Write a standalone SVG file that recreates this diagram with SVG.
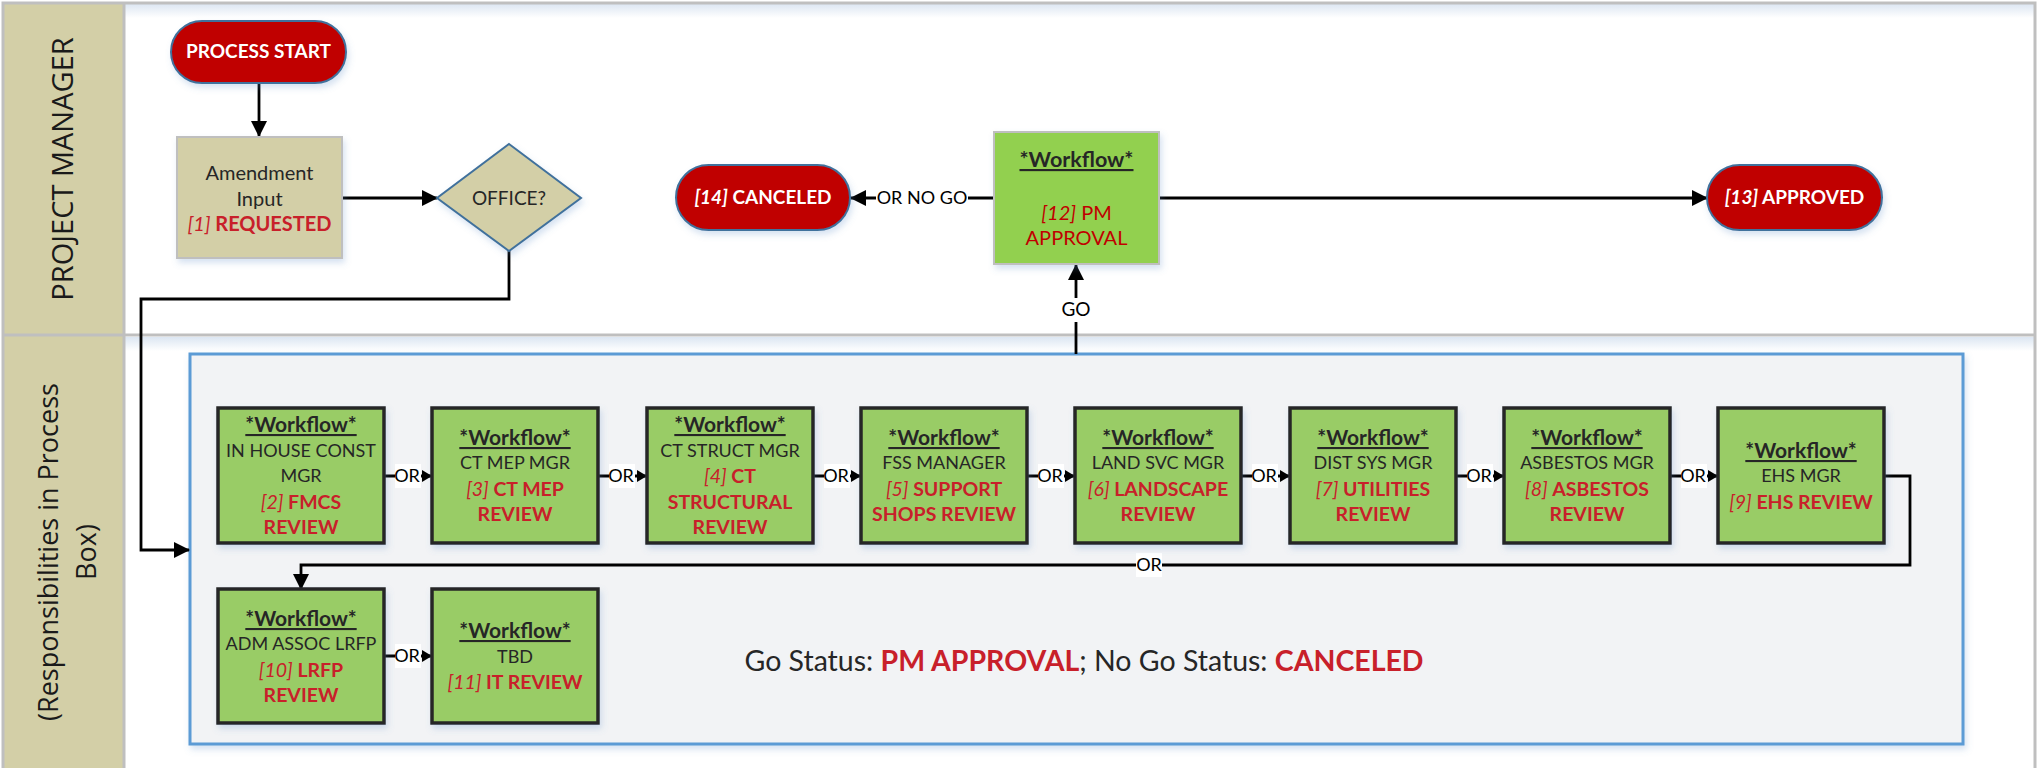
<svg xmlns="http://www.w3.org/2000/svg" width="2038" height="768" viewBox="0 0 2038 768">
<style>
.lbl{font-family:Lato,"Liberation Sans",sans-serif;}
.t{font-family:Lato,"Liberation Sans",sans-serif;font-size:18px;text-anchor:middle;fill:#262626;}
.wf{font-weight:bold;text-decoration:underline;font-size:21px;}
.r{fill:#C8202A;font-weight:bold;font-size:19.5px;}
.ri{fill:#C8202A;font-style:italic;font-weight:normal;font-size:19.5px;}
.review{fill:#99CC66;stroke:#262626;stroke-width:3.5;}
.pill{fill:#C00000;stroke:#41719C;stroke-width:2;}
.pt{font-family:Lato,"Liberation Sans",sans-serif;font-size:19px;font-weight:bold;fill:#fff;text-anchor:middle;}
.ln{fill:none;stroke:#000;stroke-width:2.8;}
.ol{font-family:Lato,"Liberation Sans",sans-serif;font-size:18px;fill:#000;text-anchor:middle;}
.lane{font-family:"Open Sans","Noto Sans",sans-serif;font-size:27px;fill:#1a1a1a;text-anchor:middle;}
</style>
<defs>
<marker id="big" markerWidth="16" markerHeight="16" refX="15" refY="8" orient="auto" markerUnits="userSpaceOnUse"><path d="M0,0 L16,8 L0,16 Z" fill="#000"/></marker>
<marker id="sm" markerWidth="10" markerHeight="12" refX="10" refY="6" orient="auto" markerUnits="userSpaceOnUse"><path d="M0,0 L10,6 L0,12 Z" fill="#000"/></marker>
<filter id="sh" x="-10%" y="-10%" width="130%" height="130%"><feDropShadow dx="2" dy="4" stdDeviation="3" flood-color="#5B8BC9" flood-opacity="0.25"/></filter>
<linearGradient id="band" x1="0" y1="0" x2="0" y2="1"><stop offset="0" stop-color="#DCE6F2"/><stop offset="1" stop-color="#FFFFFF"/></linearGradient>
</defs>

<!-- lanes -->
<g id="lanes">
<rect x="0" y="0" width="2038" height="768" fill="#fff"/>
<rect x="124" y="4" width="1911" height="14" fill="url(#band)"/>
<rect x="124" y="337" width="1911" height="14" fill="url(#band)"/>
<rect x="3" y="3" width="121" height="765" fill="#D3CFA7"/>
<path d="M3,768 V3 H2035 V768" fill="none" stroke="#BFBFBF" stroke-width="3"/>
<line x1="124" y1="3" x2="124" y2="768" stroke="#BFBFBF" stroke-width="3"/>
<line x1="3" y1="335" x2="2035" y2="335" stroke="#BFBFBF" stroke-width="3"/>
<text class="lane" style="font-size:29px" transform="translate(73,169) rotate(-90)">PROJECT MANAGER</text>
<text class="lane" transform="translate(58,552) rotate(-90)">(Responsibilities in Process</text>
<text class="lane" transform="translate(96,552) rotate(-90)">Box)</text>
</g>

<g id="process-box">
<rect x="190" y="354" width="1773" height="390" fill="#F2F3F5" stroke="#5B9BD5" stroke-width="3" filter="url(#sh)"/>
<text class="lbl" x="1084" y="671" font-size="28.5" text-anchor="middle" fill="#262626">Go Status: <tspan fill="#C8202A" font-weight="bold">PM APPROVAL</tspan>; No Go Status: <tspan fill="#C8202A" font-weight="bold">CANCELED</tspan></text>
</g>

<!-- connectors -->
<g id="connectors">
<line class="ln" x1="259" y1="83" x2="259" y2="136" marker-end="url(#big)"/>
<line class="ln" x1="342" y1="198" x2="437" y2="198" marker-end="url(#big)"/>
<polyline class="ln" points="509,251 509,299 141,299 141,550 189,550" marker-end="url(#big)"/>
<line class="ln" x1="1076" y1="354" x2="1076" y2="265" marker-end="url(#big)"/>
<rect x="1061" y="298" width="30" height="24" fill="#fff"/>
<text class="ol" x="1076" y="316" style="font-size:19px">GO</text>
<line class="ln" x1="994" y1="198" x2="851" y2="198" marker-end="url(#big)"/>
<rect x="876" y="186" width="92" height="24" fill="#fff"/>
<text class="ol" x="922" y="204">OR NO GO</text>
<line class="ln" x1="1159" y1="198" x2="1707" y2="198" marker-end="url(#big)"/>

<line class="ln" x1="384" y1="476" x2="432" y2="476" marker-end="url(#sm)"/>
<line class="ln" x1="598" y1="476" x2="647" y2="476" marker-end="url(#sm)"/>
<line class="ln" x1="813" y1="476" x2="861" y2="476" marker-end="url(#sm)"/>
<line class="ln" x1="1027" y1="476" x2="1075" y2="476" marker-end="url(#sm)"/>
<line class="ln" x1="1241" y1="476" x2="1290" y2="476" marker-end="url(#sm)"/>
<line class="ln" x1="1456" y1="476" x2="1504" y2="476" marker-end="url(#sm)"/>
<line class="ln" x1="1670" y1="476" x2="1718" y2="476" marker-end="url(#sm)"/>
<polyline class="ln" points="1884,476 1910,476 1910,565 301,565 301,589" marker-end="url(#big)"/>
<line class="ln" x1="384" y1="656" x2="432" y2="656" marker-end="url(#sm)"/>
<g fill="#fff">
<rect x="395" y="464" width="26" height="24"/>
<rect x="609" y="464" width="26" height="24"/>
<rect x="824" y="464" width="26" height="24"/>
<rect x="1038" y="464" width="26" height="24"/>
<rect x="1252" y="464" width="26" height="24"/>
<rect x="1467" y="464" width="26" height="24"/>
<rect x="1681" y="464" width="26" height="24"/>
<rect x="1136" y="553" width="26" height="24"/>
<rect x="395" y="644" width="26" height="24"/>
</g>
<text class="ol" x="407" y="482">OR</text>
<text class="ol" x="621" y="482">OR</text>
<text class="ol" x="836" y="482">OR</text>
<text class="ol" x="1050" y="482">OR</text>
<text class="ol" x="1264" y="482">OR</text>
<text class="ol" x="1479" y="482">OR</text>
<text class="ol" x="1693" y="482">OR</text>
<text class="ol" x="1149" y="571">OR</text>
<text class="ol" x="407" y="662">OR</text>
</g>

<!-- top lane nodes -->
<g id="process-start">
<rect class="pill" x="171" y="21" width="175" height="62" rx="31" filter="url(#sh)"/>
<text class="pt" x="258.5" y="58">PROCESS START</text>
</g>
<g id="amendment-input">
<rect x="177" y="137" width="165" height="121" fill="#D3CFA7" stroke="#BFBFBF" stroke-width="2" filter="url(#sh)"/>
<text class="t" x="259.5" y="180" style="font-size:20px">Amendment</text>
<text class="t" x="259.5" y="206" style="font-size:20px">Input</text>
<text class="t" x="259.5" y="231"><tspan class="ri" style="font-size:20px">[1]</tspan> <tspan class="r" style="font-size:20px">REQUESTED</tspan></text>
</g>
<g id="office">
<polygon points="509,144 581,198 509,251 437,198" fill="#D3CFA7" stroke="#41719C" stroke-width="2" filter="url(#sh)"/>
<text class="t" x="509" y="205" style="font-size:19px">OFFICE?</text>
</g>
<g id="pm-approval">
<rect x="994" y="132" width="165" height="132" fill="#92D050" stroke="#BFBFBF" stroke-width="2" filter="url(#sh)"/>
<text class="t" x="1076.5" y="167"><tspan class="wf" style="font-size:21.5px">*Workflow*</tspan></text>
<text class="t" x="1076.5" y="220" style="font-size:20px;fill:#C00000"><tspan font-style="italic">[12]</tspan> PM</text>
<text class="t" x="1076.5" y="245" style="font-size:20px;fill:#C00000">APPROVAL</text>
</g>
<g id="canceled">
<rect class="pill" x="676" y="165" width="174" height="65" rx="32.5" filter="url(#sh)"/>
<text class="pt" x="763" y="204"><tspan font-style="italic">[14]</tspan> CANCELED</text>
</g>
<g id="approved">
<rect class="pill" x="1707" y="165" width="175" height="65" rx="32.5" filter="url(#sh)"/>
<text class="pt" x="1794.5" y="204"><tspan font-style="italic">[13]</tspan> APPROVED</text>
</g>

<!-- review boxes -->
<g id="fmcs-review">
<rect class="review" x="218" y="408" width="166" height="135" filter="url(#sh)"/>
<text class="t" x="301" y="432"><tspan class="wf">*Workflow*</tspan></text>
<text class="t" x="301" y="457">IN HOUSE CONST</text>
<text class="t" x="301" y="482">MGR</text>
<text class="t" x="301" y="509"><tspan class="ri">[2]</tspan> <tspan class="r">FMCS</tspan></text>
<text class="t" x="301" y="534"><tspan class="r">REVIEW</tspan></text>
</g>
<g id="ct-mep-review">
<rect class="review" x="432" y="408" width="166" height="135" filter="url(#sh)"/>
<text class="t" x="515" y="445"><tspan class="wf">*Workflow*</tspan></text>
<text class="t" x="515" y="469">CT MEP MGR</text>
<text class="t" x="515" y="496"><tspan class="ri">[3]</tspan> <tspan class="r">CT MEP</tspan></text>
<text class="t" x="515" y="521"><tspan class="r">REVIEW</tspan></text>
</g>
<g id="ct-structural-review">
<rect class="review" x="647" y="408" width="166" height="135" filter="url(#sh)"/>
<text class="t" x="730" y="432"><tspan class="wf">*Workflow*</tspan></text>
<text class="t" x="730" y="457">CT STRUCT MGR</text>
<text class="t" x="730" y="483"><tspan class="ri">[4]</tspan> <tspan class="r">CT</tspan></text>
<text class="t" x="730" y="509"><tspan class="r">STRUCTURAL</tspan></text>
<text class="t" x="730" y="534"><tspan class="r">REVIEW</tspan></text>
</g>
<g id="support-shops-review">
<rect class="review" x="861" y="408" width="166" height="135" filter="url(#sh)"/>
<text class="t" x="944" y="445"><tspan class="wf">*Workflow*</tspan></text>
<text class="t" x="944" y="469">FSS MANAGER</text>
<text class="t" x="944" y="496"><tspan class="ri">[5]</tspan> <tspan class="r">SUPPORT</tspan></text>
<text class="t" x="944" y="521"><tspan class="r">SHOPS REVIEW</tspan></text>
</g>
<g id="landscape-review">
<rect class="review" x="1075" y="408" width="166" height="135" filter="url(#sh)"/>
<text class="t" x="1158" y="445"><tspan class="wf">*Workflow*</tspan></text>
<text class="t" x="1158" y="469">LAND SVC MGR</text>
<text class="t" x="1158" y="496"><tspan class="ri">[6]</tspan> <tspan class="r">LANDSCAPE</tspan></text>
<text class="t" x="1158" y="521"><tspan class="r">REVIEW</tspan></text>
</g>
<g id="utilities-review">
<rect class="review" x="1290" y="408" width="166" height="135" filter="url(#sh)"/>
<text class="t" x="1373" y="445"><tspan class="wf">*Workflow*</tspan></text>
<text class="t" x="1373" y="469">DIST SYS MGR</text>
<text class="t" x="1373" y="496"><tspan class="ri">[7]</tspan> <tspan class="r">UTILITIES</tspan></text>
<text class="t" x="1373" y="521"><tspan class="r">REVIEW</tspan></text>
</g>
<g id="asbestos-review">
<rect class="review" x="1504" y="408" width="166" height="135" filter="url(#sh)"/>
<text class="t" x="1587" y="445"><tspan class="wf">*Workflow*</tspan></text>
<text class="t" x="1587" y="469">ASBESTOS MGR</text>
<text class="t" x="1587" y="496"><tspan class="ri">[8]</tspan> <tspan class="r">ASBESTOS</tspan></text>
<text class="t" x="1587" y="521"><tspan class="r">REVIEW</tspan></text>
</g>
<g id="ehs-review">
<rect class="review" x="1718" y="408" width="166" height="135" filter="url(#sh)"/>
<text class="t" x="1801" y="458"><tspan class="wf">*Workflow*</tspan></text>
<text class="t" x="1801" y="482">EHS MGR</text>
<text class="t" x="1801" y="509"><tspan class="ri">[9]</tspan> <tspan class="r">EHS REVIEW</tspan></text>
</g>
<g id="lrfp-review">
<rect class="review" x="218" y="589" width="166" height="134" filter="url(#sh)"/>
<text class="t" x="301" y="626"><tspan class="wf">*Workflow*</tspan></text>
<text class="t" x="301" y="650">ADM ASSOC LRFP</text>
<text class="t" x="301" y="677"><tspan class="ri">[10]</tspan> <tspan class="r">LRFP</tspan></text>
<text class="t" x="301" y="702"><tspan class="r">REVIEW</tspan></text>
</g>
<g id="it-review">
<rect class="review" x="432" y="589" width="166" height="134" filter="url(#sh)"/>
<text class="t" x="515" y="638"><tspan class="wf">*Workflow*</tspan></text>
<text class="t" x="515" y="663">TBD</text>
<text class="t" x="515" y="689"><tspan class="ri">[11]</tspan> <tspan class="r">IT REVIEW</tspan></text>
</g>
</svg>
